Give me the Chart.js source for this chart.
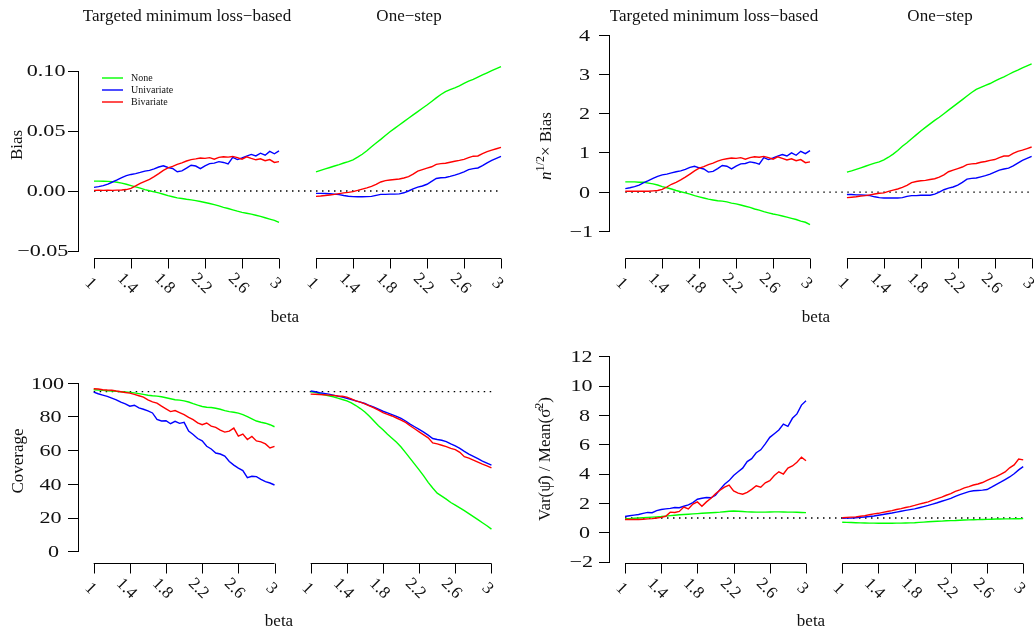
<!DOCTYPE html>
<html>
<head>
<meta charset="utf-8">
<script src="https://cdn.jsdelivr.net/npm/chart.js@4.4.1/dist/chart.umd.min.js"></script>
<style>
  body { margin: 0; background: #fff; }
  #fig { position: relative; width: 1034px; height: 631px; font-family: "Liberation Serif", "DejaVu Serif", serif; color: #111; }
  #fig canvas { position: absolute; left: 0; top: 0; }
  .lbl { position: absolute; font-size: 17px; white-space: nowrap; transform: translate(-50%, -50%); }
  .rot { transform: translate(-50%, -50%) rotate(-90deg); }
  sup { font-size: 12px; vertical-align: 7px; line-height: 0; }
</style>
</head>
<body>
<div id="fig">
  <canvas id="c1" width="1034" height="631"></canvas>
  <canvas id="c2" width="1034" height="631"></canvas>
  <canvas id="c3" width="1034" height="631"></canvas>
  <canvas id="c4" width="1034" height="631"></canvas>

  <div class="lbl" style="left:187px;top:16px">Targeted minimum loss−based</div>
  <div class="lbl" style="left:409px;top:16px">One−step</div>
  <div class="lbl" style="left:714px;top:16px">Targeted minimum loss−based</div>
  <div class="lbl" style="left:940px;top:16px">One−step</div>

  <div class="lbl rot" style="left:17px;top:145px">Bias</div>
  <div class="lbl rot" style="left:546px;top:146px"><i>n</i><sup>1/2</sup>× Bias</div>
  <div class="lbl rot" style="left:18px;top:461px">Coverage</div>
  <div class="lbl rot" style="left:545px;top:459px">Var(ψ̂) / Mean(σ̂<sup>2</sup>)</div>

  <div class="lbl" style="left:285px;top:317px">beta</div>
  <div class="lbl" style="left:816px;top:317px">beta</div>
  <div class="lbl" style="left:279px;top:621px">beta</div>
  <div class="lbl" style="left:811px;top:621px">beta</div>
</div>

<script>
// grid of beta values shared by every panel
const beta = [1, 1.05, 1.1, 1.15, 1.2, 1.25, 1.3, 1.35, 1.4, 1.45, 1.5, 1.55, 1.6, 1.65, 1.7, 1.75, 1.8, 1.85, 1.9, 1.95,
  2, 2.05, 2.1, 2.15, 2.2, 2.25, 2.3, 2.35, 2.4, 2.45, 2.5, 2.55, 2.6, 2.65, 2.7, 2.75, 2.8, 2.85, 2.9, 2.95, 3];

const xTicks = [1, 1.4, 1.8, 2.2, 2.6, 3];
const xTickLabels = ["1", "1.4", "1.8", "2.2", "2.6", "3"];

const seriesNames = ["None", "Univariate", "Bivariate"];
const seriesColors = ["#00ff00", "#0000ff", "#ff0000"];

// bias
const biasNoneTmle = [0.0082, 0.0082, 0.0081, 0.0080, 0.0078, 0.0073, 0.0066, 0.0056, 0.0045, 0.0034, 0.0024, 0.0012, 0.0002, -0.0007,
  -0.0016, -0.0027, -0.0039, -0.0048, -0.0057, -0.0063, -0.0069, -0.0074, -0.0080, -0.0088, -0.0096, -0.0104, -0.0114, -0.0124,
  -0.0136, -0.0146, -0.0157, -0.0168, -0.0178, -0.0185, -0.0193, -0.0202, -0.0212, -0.0223, -0.0234, -0.0245, -0.0262];
const biasUniTmle = [0.0030, 0.0036, 0.0045, 0.0058, 0.0075, 0.0092, 0.0112, 0.0128, 0.0138, 0.0145, 0.0155, 0.0166, 0.0172, 0.0185,
  0.0200, 0.0210, 0.0196, 0.0188, 0.0160, 0.0168, 0.0190, 0.0215, 0.0208, 0.0186, 0.0210, 0.0228, 0.0232, 0.0245, 0.0238, 0.0225,
  0.0280, 0.0262, 0.0275, 0.0290, 0.0305, 0.0292, 0.0315, 0.0298, 0.0330, 0.0310, 0.0335];
const biasBiTmle = [0.0005, 0.0006, 0.0005, 0.0006, 0.0005, 0.0007, 0.0008, 0.0012, 0.0022, 0.0042, 0.0064, 0.0080, 0.0097, 0.0120,
  0.0145, 0.0172, 0.0192, 0.0205, 0.0222, 0.0235, 0.0250, 0.0262, 0.0268, 0.0275, 0.0272, 0.0278, 0.0265, 0.0280, 0.0285, 0.0282,
  0.0288, 0.0278, 0.0265, 0.0285, 0.0272, 0.0260, 0.0268, 0.0252, 0.0262, 0.0238, 0.0245];
const biasNoneOs = [0.0160, 0.0172, 0.0184, 0.0196, 0.0208, 0.0220, 0.0233, 0.0245, 0.0260, 0.0282, 0.0306, 0.0336, 0.0369, 0.0400,
  0.0430, 0.0462, 0.0494, 0.0522, 0.0550, 0.0578, 0.0606, 0.0634, 0.0662, 0.0690, 0.0717, 0.0746, 0.0776, 0.0804, 0.0828, 0.0845,
  0.0860, 0.0876, 0.0897, 0.0915, 0.0930, 0.0948, 0.0967, 0.0985, 0.1003, 0.1020, 0.1036];
const biasUniOs = [-0.0020, -0.0020, -0.0021, -0.0023, -0.0026, -0.0030, -0.0038, -0.0044, -0.0047, -0.0048, -0.0048, -0.0047,
  -0.0045, -0.0036, -0.0028, -0.0028, -0.0026, -0.0026, -0.0024, -0.0015, 0.0000, 0.0018, 0.0032, 0.0042, 0.0056, 0.0080, 0.0104,
  0.0110, 0.0113, 0.0122, 0.0132, 0.0145, 0.0160, 0.0178, 0.0186, 0.0192, 0.0212, 0.0235, 0.0255, 0.0272, 0.0288];
const biasBiOs = [-0.0045, -0.0042, -0.0038, -0.0033, -0.0028, -0.0022, -0.0016, -0.0011, -0.0005, 0.0005, 0.0016, 0.0026, 0.0038,
  0.0055, 0.0075, 0.0086, 0.0092, 0.0096, 0.0100, 0.0108, 0.0120, 0.0140, 0.0165, 0.0178, 0.0190, 0.0202, 0.0222, 0.0228, 0.0231,
  0.0240, 0.0248, 0.0255, 0.0264, 0.0278, 0.0290, 0.0292, 0.0312, 0.0328, 0.0340, 0.0352, 0.0364];
const biasTicks = [-0.05, 0, 0.05, 0.1];
const biasTickLabels = ["−0.05", "0.00", "0.05", "0.10"];

// n^(1/2) x bias
const rootnNoneTmle = [0.26, 0.26, 0.26, 0.25, 0.25, 0.23, 0.21, 0.18, 0.14, 0.11, 0.08, 0.04, 0.01, -0.02, -0.05, -0.09, -0.12,
  -0.15, -0.18, -0.20, -0.22, -0.23, -0.25, -0.28, -0.30, -0.33, -0.36, -0.39, -0.43, -0.46, -0.50, -0.53, -0.56, -0.58, -0.61,
  -0.64, -0.67, -0.70, -0.74, -0.77, -0.83];
const rootnUniTmle = [0.09, 0.11, 0.14, 0.18, 0.24, 0.29, 0.35, 0.40, 0.44, 0.46, 0.49, 0.52, 0.54, 0.58, 0.63, 0.66, 0.62, 0.59,
  0.51, 0.53, 0.60, 0.68, 0.66, 0.59, 0.66, 0.72, 0.73, 0.77, 0.75, 0.71, 0.88, 0.83, 0.87, 0.92, 0.96, 0.92, 1.00, 0.94, 1.04,
  0.98, 1.06];
const rootnBiTmle = [0.02, 0.02, 0.02, 0.02, 0.02, 0.02, 0.03, 0.04, 0.07, 0.13, 0.20, 0.25, 0.31, 0.38, 0.46, 0.54, 0.61, 0.65,
  0.70, 0.74, 0.79, 0.83, 0.85, 0.87, 0.86, 0.88, 0.84, 0.88, 0.90, 0.89, 0.91, 0.88, 0.84, 0.90, 0.86, 0.82, 0.85, 0.80, 0.83,
  0.75, 0.77];
const rootnNoneOs = [0.51, 0.54, 0.58, 0.62, 0.66, 0.70, 0.74, 0.77, 0.82, 0.89, 0.97, 1.06, 1.17, 1.26, 1.36, 1.46, 1.56, 1.65,
  1.74, 1.83, 1.91, 2.00, 2.09, 2.18, 2.27, 2.36, 2.45, 2.54, 2.62, 2.67, 2.72, 2.77, 2.83, 2.89, 2.94, 3.00, 3.06, 3.11, 3.17,
  3.22, 3.27];
const rootnUniOs = [-0.06, -0.06, -0.07, -0.07, -0.08, -0.09, -0.12, -0.14, -0.15, -0.15, -0.15, -0.15, -0.14, -0.11, -0.09,
  -0.09, -0.08, -0.08, -0.08, -0.05, 0.00, 0.06, 0.10, 0.13, 0.18, 0.25, 0.33, 0.35, 0.36, 0.39, 0.42, 0.46, 0.51, 0.56, 0.59,
  0.61, 0.67, 0.74, 0.81, 0.86, 0.91];
const rootnBiOs = [-0.14, -0.13, -0.12, -0.10, -0.09, -0.07, -0.05, -0.03, -0.02, 0.02, 0.05, 0.08, 0.12, 0.17, 0.24, 0.27, 0.29,
  0.30, 0.32, 0.34, 0.38, 0.44, 0.52, 0.56, 0.60, 0.64, 0.70, 0.72, 0.73, 0.76, 0.78, 0.81, 0.83, 0.88, 0.92, 0.92, 0.99, 1.04,
  1.07, 1.11, 1.15];
const rootnTicks = [-1, 0, 1, 2, 3, 4];
const rootnTickLabels = ["−1", "0", "1", "2", "3", "4"];

// coverage (%)
const covNoneTmle = [96.2, 96.0, 95.8, 95.6, 95.4, 95.2, 95.0, 94.8, 94.6, 94.3, 93.9, 93.4, 92.9, 92.6, 92.4, 92.0, 91.4, 90.8,
  90.2, 90.0, 89.6, 88.9, 87.9, 87.0, 86.2, 85.8, 85.6, 85.2, 84.6, 83.8, 83.2, 82.8, 82.3, 81.4, 80.2, 78.9, 77.6, 76.9, 76.3,
  75.4, 74.2];
const covUniTmle = [94.8, 93.8, 93.0, 92.2, 91.2, 90.2, 88.8, 87.8, 86.4, 87.0, 85.4, 84.6, 83.6, 82.4, 78.6, 77.6, 77.8, 76.0,
  77.4, 76.2, 76.8, 71.6, 69.6, 67.2, 65.8, 62.6, 61.0, 58.6, 58.0, 56.8, 53.6, 51.4, 49.6, 48.2, 44.0, 44.8, 44.6, 43.0, 41.6,
  40.8, 39.6];
const covBiTmle = [96.8, 96.6, 96.2, 96.0, 95.9, 95.4, 95.0, 94.5, 94.2, 93.4, 92.6, 91.8, 90.2, 89.0, 88.2, 86.4, 84.8, 83.2,
  83.8, 82.6, 81.4, 79.8, 78.4, 76.5, 75.4, 76.4, 74.6, 73.8, 72.2, 71.0, 71.6, 73.4, 68.6, 69.8, 66.6, 68.4, 65.8, 65.2, 64.0,
  61.6, 62.6];
const covNoneOs = [95.0, 94.6, 93.8, 93.2, 92.6, 92.0, 91.2, 90.4, 89.6, 88.4, 86.8, 85.0, 83.0, 80.4, 77.6, 74.8, 72.4, 69.8,
  67.4, 65.0, 62.2, 58.8, 55.4, 52.0, 48.6, 45.0, 41.2, 37.8, 34.8, 33.0, 31.2, 29.2, 27.6, 26.0, 24.4, 22.6, 20.8, 19.0, 17.2,
  15.4, 13.4];
const covUniOs = [95.4, 95.0, 94.4, 94.0, 93.6, 93.0, 92.4, 91.8, 91.1, 90.4, 89.6, 88.8, 88.0, 86.8, 85.8, 84.6, 83.4, 82.4,
  81.4, 80.4, 79.2, 77.6, 75.8, 74.2, 72.6, 71.0, 69.2, 67.2, 66.6, 66.2, 65.4, 64.0, 62.8, 61.4, 59.6, 58.0, 56.6, 55.2, 53.8,
  52.6, 51.4];
const covBiOs = [93.6, 93.5, 93.3, 93.2, 93.0, 92.8, 92.5, 92.3, 91.8, 90.8, 89.6, 88.8, 87.8, 86.6, 85.4, 84.0, 82.6, 81.6,
  80.6, 79.4, 78.2, 76.8, 74.8, 73.0, 71.2, 69.4, 67.6, 64.6, 64.0, 63.2, 62.4, 61.4, 60.6, 59.0, 56.4, 55.6, 54.4, 53.2, 52.0,
  51.0, 49.8];
const covTicks = [0, 20, 40, 60, 80, 100];
const covTickLabels = ["0", "20", "40", "60", "80", "100"];

// Var(psi hat) / Mean(sigma hat^2)
const ratioNoneTmle = [0.95, 0.96, 0.98, 1.00, 1.02, 1.04, 1.06, 1.08, 1.10, 1.13, 1.16, 1.19, 1.22, 1.24, 1.26, 1.28, 1.30,
  1.32, 1.34, 1.36, 1.38, 1.40, 1.43, 1.46, 1.48, 1.46, 1.44, 1.42, 1.41, 1.40, 1.40, 1.40, 1.41, 1.42, 1.42, 1.41, 1.40, 1.40,
  1.39, 1.38, 1.37];
const ratioUniTmle = [1.10, 1.15, 1.20, 1.24, 1.32, 1.38, 1.36, 1.50, 1.58, 1.62, 1.66, 1.72, 1.70, 1.80, 1.90, 2.05, 2.28, 2.35,
  2.40, 2.38, 2.55, 2.95, 3.30, 3.55, 3.90, 4.15, 4.40, 4.85, 5.05, 5.45, 5.65, 6.05, 6.50, 6.75, 7.00, 7.40, 7.25, 7.80, 8.10,
  8.70, 9.00];
const ratioBiTmle = [0.90, 0.90, 0.91, 0.90, 0.92, 0.94, 0.96, 1.00, 1.04, 1.12, 1.40, 1.38, 1.45, 1.75, 1.62, 1.95, 2.10, 1.80,
  2.10, 2.35, 2.65, 2.90, 3.10, 3.25, 2.85, 2.70, 2.62, 2.75, 2.95, 3.20, 3.10, 3.40, 3.55, 3.90, 4.15, 4.00, 4.40, 4.55, 4.80,
  5.15, 4.90];
const ratioNoneOs = [0.71, 0.70, 0.69, 0.68, 0.67, 0.66, 0.65, 0.65, 0.64, 0.64, 0.64, 0.64, 0.65, 0.65, 0.66, 0.67, 0.68, 0.70,
  0.72, 0.74, 0.76, 0.78, 0.79, 0.81, 0.82, 0.83, 0.85, 0.86, 0.87, 0.88, 0.89, 0.90, 0.91, 0.92, 0.93, 0.93, 0.94, 0.94, 0.95,
  0.95, 0.96];
const ratioUniOs = [0.98, 0.99, 1.00, 1.02, 1.04, 1.07, 1.10, 1.14, 1.19, 1.24, 1.29, 1.34, 1.40, 1.46, 1.52, 1.57, 1.62, 1.70,
  1.78, 1.86, 1.95, 2.04, 2.14, 2.24, 2.34, 2.48, 2.60, 2.70, 2.80, 2.86, 2.88, 2.90, 2.94, 3.10, 3.28, 3.44, 3.62, 3.80, 4.02,
  4.28, 4.50];
const ratioBiOs = [1.02, 1.04, 1.06, 1.08, 1.12, 1.16, 1.22, 1.28, 1.32, 1.38, 1.44, 1.50, 1.58, 1.64, 1.72, 1.78, 1.86, 1.95,
  2.02, 2.10, 2.22, 2.32, 2.42, 2.55, 2.66, 2.82, 2.92, 3.05, 3.14, 3.25, 3.32, 3.42, 3.56, 3.70, 3.82, 3.98, 4.14, 4.42, 4.62,
  5.02, 4.96];
const ratioTicks = [-2, 0, 2, 4, 6, 8, 10, 12];
const ratioTickLabels = ["−2", "0", "2", "4", "6", "8", "10", "12"];

// the one-step curves share the plot with the TMLE ones, shifted right by this much
const osShift = 2.4;
const W = 1034, H = 631, yAxisWidth = 60;
const serif = "Liberation Serif";

// draws the two detached R-style x axes, the y tick labels and, optionally, the legend
const rAxes = {
  id: "rAxes",
  afterDraw(chart, args, opts) {
    const ctx = chart.ctx;
    const xs = chart.scales.x;
    const ys = chart.scales.y;
    const y = Math.round(opts.y) + 0.5;
    ctx.save();
    ctx.strokeStyle = "#000";
    ctx.lineWidth = 1;
    ctx.fillStyle = "#111";
    ctx.font = "17px '" + serif + "'";
    ctx.textAlign = "center";
    ctx.textBaseline = "middle";
    [0, osShift].forEach((shift) => {
      const a = xs.getPixelForValue(xTicks[0] + shift);
      const b = xs.getPixelForValue(xTicks[xTicks.length - 1] + shift);
      ctx.beginPath();
      ctx.moveTo(a, y);
      ctx.lineTo(b, y);
      ctx.stroke();
      xTicks.forEach((t, i) => {
        const px = Math.round(xs.getPixelForValue(t + shift)) + 0.5;
        ctx.beginPath();
        ctx.moveTo(px, y);
        ctx.lineTo(px, y + 10);
        ctx.stroke();
        ctx.save();
        ctx.translate(px - 4, y + 25);
        ctx.rotate(Math.PI / 4);
        ctx.fillText(xTickLabels[i], 0, 0);
        ctx.restore();
      });
    });

    // y tick labels: anchored on the right, glyphs drawn a little wide like the original
    ctx.textAlign = "left";
    const anchor = chart.chartArea.left - 21.5;
    opts.yTicks.forEach((v, i) => {
      const label = opts.yTickLabels[i];
      const w = ctx.measureText(label).width;
      ctx.save();
      ctx.translate(anchor - w, ys.getPixelForValue(v) + 1);
      ctx.scale(1.3, 1);
      ctx.fillText(label, 0, 0);
      ctx.restore();
    });

    if (opts.legend) {
      ctx.font = "10px '" + serif + "'";
      ctx.lineWidth = 1.4;
      seriesNames.forEach((name, i) => {
        const ly = opts.legend.y + i * 12;
        ctx.strokeStyle = seriesColors[i];
        ctx.beginPath();
        ctx.moveTo(opts.legend.x, ly);
        ctx.lineTo(opts.legend.x + 21, ly);
        ctx.stroke();
        ctx.fillStyle = "#111";
        ctx.fillText(name, opts.legend.x + 29, ly);
      });
    }
    ctx.restore();
  },
};

function drawPanel(id, geo, tmle, os, yTicks, yTickLabels, ymin, ymax, ref, legend) {
  const ppu = (geo.x3 - geo.x1) / 2;
  const xmin = 1 - (geo.x1 - geo.left) / ppu;
  const xmax = 1 + (geo.right - geo.x1) / ppu;

  const datasets = [];
  [tmle, os].forEach((group, g) => {
    group.forEach((vals, s) => {
      datasets.push({
        label: seriesNames[s],
        data: beta.map((b, i) => ({ x: b + g * osShift, y: vals[i] })),
        borderColor: seriesColors[s],
        borderWidth: 1.4,
        pointRadius: 0,
        tension: 0,
        clip: false,
        order: 2 - s,
      });
    });
  });
  datasets.push({
    label: "reference",
    data: [
      { x: beta[0], y: ref },
      { x: beta[beta.length - 1] + osShift, y: ref },
    ],
    borderColor: "#000",
    borderWidth: 1.3,
    borderDash: [1.5, 4.5],
    pointRadius: 0,
    clip: false,
    order: 5,
  });

  new Chart(document.getElementById(id), {
    type: "line",
    data: { datasets },
    plugins: [rAxes],
    options: {
      responsive: false,
      animation: false,
      devicePixelRatio: 1,
      layout: {
        padding: { left: geo.left - yAxisWidth, right: W - geo.right, top: geo.top, bottom: H - geo.bottom },
      },
      scales: {
        x: { type: "linear", min: xmin, max: xmax, display: false },
        y: {
          type: "linear",
          min: ymin,
          max: ymax,
          afterFit: (scale) => { scale.width = yAxisWidth; },
          afterBuildTicks: (scale) => { scale.ticks = yTicks.map((v) => ({ value: v })); },
          border: { display: true, color: "#000", width: 1 },
          grid: { drawOnChartArea: false, drawTicks: true, tickLength: 10, color: "#000", lineWidth: 1 },
          ticks: { display: false },
        },
      },
      plugins: {
        legend: { display: false },
        tooltip: { enabled: false },
        rAxes: { y: geo.axisY, legend, yTicks, yTickLabels },
      },
    },
  });
}

drawPanel("c1", { left: 78, right: 517, top: 71, bottom: 251, x1: 94, x3: 279, axisY: 258 },
  [biasNoneTmle, biasUniTmle, biasBiTmle], [biasNoneOs, biasUniOs, biasBiOs],
  biasTicks, biasTickLabels, -0.05, 0.1, 0, { x: 102, y: 78 });

drawPanel("c2", { left: 609, right: 1034, top: 35.3, bottom: 231.3, x1: 625.3, x3: 810, axisY: 258 },
  [rootnNoneTmle, rootnUniTmle, rootnBiTmle], [rootnNoneOs, rootnUniOs, rootnBiOs],
  rootnTicks, rootnTickLabels, -1, 4, 0, null);

drawPanel("c3", { left: 78, right: 517, top: 383.3, bottom: 551.7, x1: 93.7, x3: 274.5, axisY: 562.7 },
  [covNoneTmle, covUniTmle, covBiTmle], [covNoneOs, covUniOs, covBiOs],
  covTicks, covTickLabels, 0, 100, 95, null);

drawPanel("c4", { left: 609, right: 1034, top: 356.7, bottom: 562, x1: 625, x3: 806, axisY: 562.7 },
  [ratioNoneTmle, ratioUniTmle, ratioBiTmle], [ratioNoneOs, ratioUniOs, ratioBiOs],
  ratioTicks, ratioTickLabels, -2, 12, 1, null);
</script>
</body>
</html>
